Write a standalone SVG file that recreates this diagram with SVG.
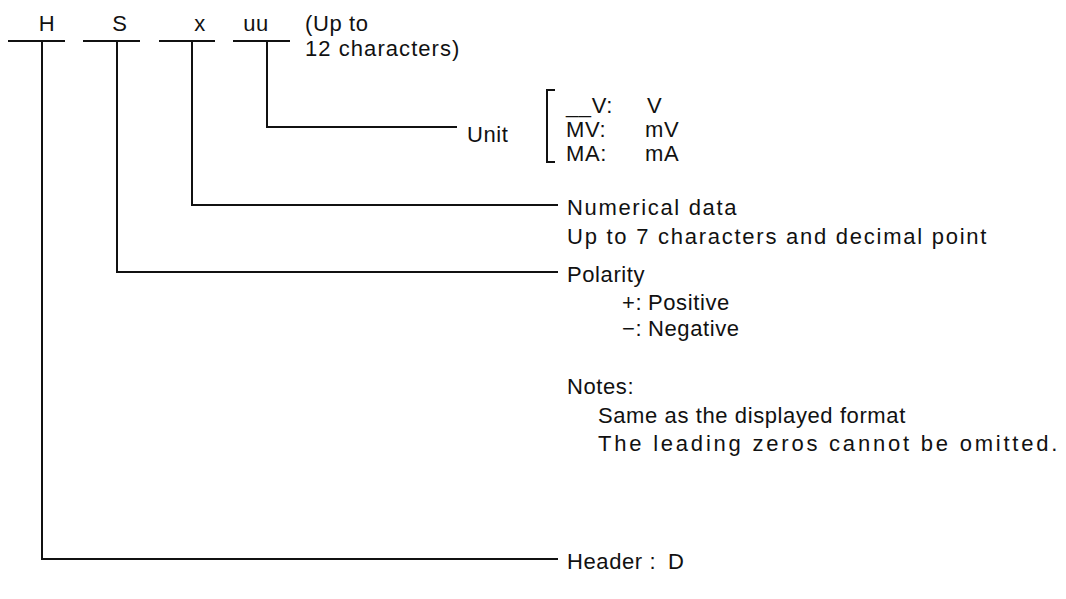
<svg xmlns="http://www.w3.org/2000/svg" width="1066" height="599" viewBox="0 0 1066 599">
<style>
text{font-family:"Liberation Sans",Arial,sans-serif;font-size:22px;fill:#111;letter-spacing:0.6px}
.ln{stroke:#111;stroke-width:2;fill:none}
</style>
<rect width="1066" height="599" fill="#fff"/>
<g id="fields">
<g id="field-H"><text x="47" y="31" text-anchor="middle">H</text><line class="ln" x1="8" y1="41" x2="65" y2="41"/></g>
<g id="field-S"><text x="120" y="31" text-anchor="middle">S</text><line class="ln" x1="83" y1="41" x2="140" y2="41"/></g>
<g id="field-x"><text x="200" y="31" text-anchor="middle">x</text><line class="ln" x1="159" y1="41" x2="215" y2="41"/></g>
<g id="field-uu"><text x="256" y="31" text-anchor="middle">uu</text><line class="ln" x1="233" y1="41" x2="290" y2="41"/></g>
<g id="length-note"><text x="305" y="31">(Up to</text><text x="305" y="56" textLength="155" lengthAdjust="spacing">12 characters)</text></g>
</g>
<g id="connectors">
<polyline class="ln" points="267,41 267,127 457,127"/>
<polyline class="ln" points="192,41 192,205 558,205"/>
<polyline class="ln" points="117,41 117,272 558,272"/>
<polyline class="ln" points="42,41 42,559 558,559"/>
</g>
<g id="unit">
<text x="467" y="142">Unit</text>
<polyline class="ln" points="555,90 547,90 547,162 555,162"/>
<text x="566" y="113">__V:</text><text x="647" y="113">V</text>
<text x="566" y="137">MV:</text><text x="645" y="137">mV</text>
<text x="566" y="161">MA:</text><text x="645" y="161">mA</text>
</g>
<g id="numerical">
<text x="567" y="215" textLength="170" lengthAdjust="spacing">Numerical data</text>
<text x="567" y="244" textLength="420" lengthAdjust="spacing">Up to 7 characters and decimal point</text>
</g>
<g id="polarity">
<text x="567" y="282">Polarity</text>
<text x="622" y="310">+:</text><text x="648" y="310">Positive</text>
<text x="622" y="336">−:</text><text x="648" y="336">Negative</text>
</g>
<g id="notes">
<text x="567" y="394">Notes:</text>
<text x="598" y="423">Same as the displayed format</text>
<text x="598" y="451" textLength="460" lengthAdjust="spacing">The leading zeros cannot be omitted.</text>
</g>
<g id="header">
<text x="567" y="569">Header :</text><text x="668" y="569">D</text>
</g>
</svg>
